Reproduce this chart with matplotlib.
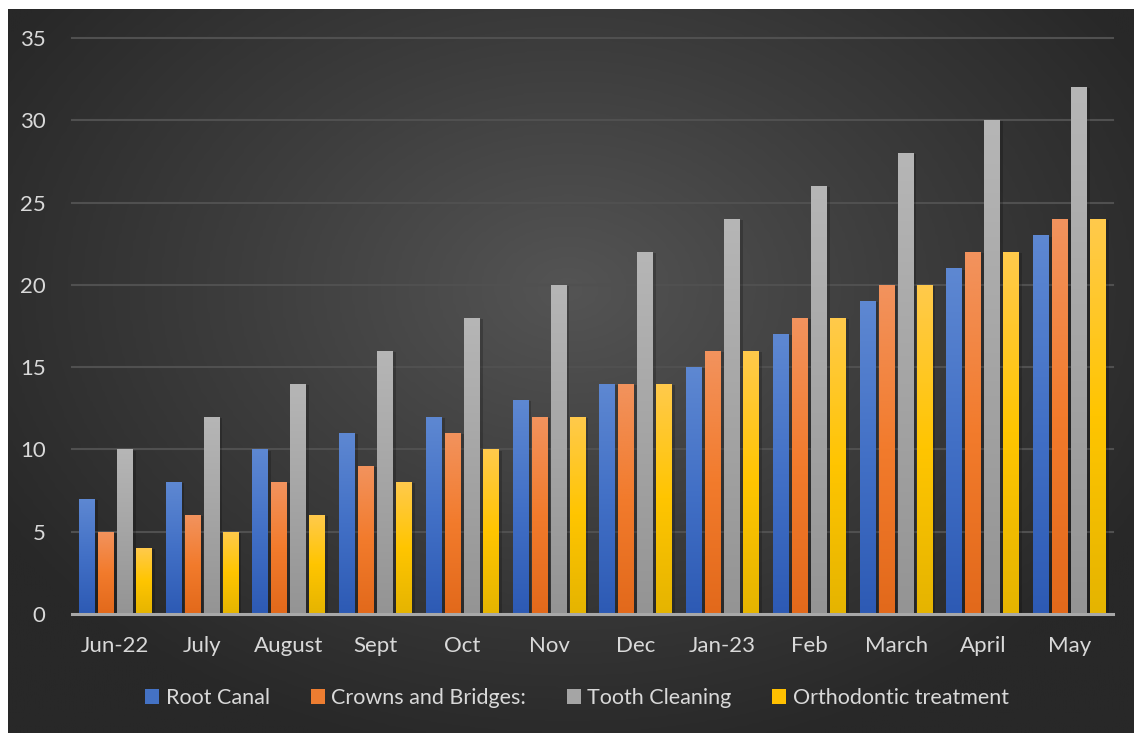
import numpy as np
import matplotlib
matplotlib.use('Agg')
import matplotlib.pyplot as plt
import matplotlib.patheffects as pe
from matplotlib.colors import LinearSegmentedColormap
from matplotlib.patches import Patch

# ── DATA ─────────────────────────────────────────────────────────────────────
months = ["Jun-22", "July", "August", "Sept", "Oct", "Nov", "Dec",
          "Jan-23", "Feb", "March", "April", "May"]
series_names = ["Root Canal", "Crowns and Bridges:", "Tooth Cleaning",
                "Orthodontic treatment"]
root_canal = [7, 8, 10, 11, 12, 13, 14, 15, 17, 19, 21, 23]
crowns_bridges = [5, 6, 8, 9, 11, 12, 14, 16, 18, 20, 22, 24]
tooth_cleaning = [10, 12, 14, 16, 18, 20, 22, 24, 26, 28, 30, 32]
orthodontic = [4, 5, 6, 8, 10, 12, 14, 16, 18, 20, 22, 24]
y_ticks = [0, 5, 10, 15, 20, 25, 30, 35]

# gradient stops per series: bottom, middle, top
gradients = [
    ["#2d5ab4", "#4270c6", "#5e88d2"],
    ["#e2691b", "#f27b2c", "#f2935e"],
    ["#949494", "#a5a5a5", "#b6b6b6"],
    ["#e5b400", "#ffc500", "#ffca4c"],
]
base_colors = ["#4472c4", "#ed7d31", "#a5a5a5", "#ffc000"]

TEXT = "#d9d9d9"
plt.rcParams['font.family'] = ['Lato', 'DejaVu Sans']

W, H = 1134, 733
fig = plt.figure(figsize=(W / 100, H / 100), dpi=100, facecolor="white")

# ── BACKGROUND: dark radial gradient ─────────────────────────────────────────
bg = fig.add_axes([8 / W, 0, 1 - 8 / W, (H - 9) / H], zorder=-10)
gx, gy = np.meshgrid(np.linspace(0, 1126, 400), np.linspace(0, 724, 260))
r = np.sqrt(((gx - 560) / 660) ** 2 + ((gy - 280) / 480) ** 2)
r = np.clip(r, 0, 1)
bg_cmap = LinearSegmentedColormap.from_list("bg", ["#545454", "#3d3d3d", "#282828"])
bg.imshow(r, cmap=bg_cmap, extent=[0, 1, 0, 1], aspect="auto", origin="upper",
          vmin=0, vmax=1, interpolation="bilinear")
bg.set_axis_off()

# ── MAIN AXES ────────────────────────────────────────────────────────────────
ymax = 35.15
ax = fig.add_axes([72 / W, (H - 614) / H, 1041 / W, 576 * ymax / 35 / H])
ax.set_facecolor("none")

x = np.arange(len(months))
width = 16 / 86.75
step = 19 / 86.75
all_series = [root_canal, crowns_bridges, tooth_cleaning, orthodontic]

grad_img = np.linspace(0, 1, 256).reshape(-1, 1)
for i, values in enumerate(all_series):
    offs = (i - 1.5) * step
    bars = ax.bar(x + offs, values, width, color=base_colors[i], zorder=3,
                  path_effects=[pe.SimplePatchShadow(offset=(2.0, -0.8),
                                                     shadow_rgbFace="black",
                                                     alpha=0.2),
                                pe.Normal()])
    cmap = LinearSegmentedColormap.from_list(f"g{i}", gradients[i])
    for b in bars:
        x0, h = b.get_x(), b.get_height()
        im = ax.imshow(grad_img, cmap=cmap, origin="lower", aspect="auto",
                       extent=[x0, x0 + width, 0, h], zorder=4,
                       interpolation="bilinear")
        im.set_clip_path(b)

ax.set_xlim(-0.5, len(months) - 0.5)
ax.set_ylim(0, ymax)
ax.set_yticks(y_ticks)
ax.set_xticks(x)
ax.set_xticklabels(months)

for s in ax.spines.values():
    s.set_visible(False)
for yv in y_ticks[1:]:
    ax.axhline(yv, color="#505050", linewidth=1.5, zorder=1, clip_on=False)
ax.axhline(0, color="#a8a8a8", linewidth=2.2, zorder=5, clip_on=False)

ax.tick_params(axis="both", length=0, colors=TEXT, labelsize=16)
ax.tick_params(axis="y", pad=19)
ax.tick_params(axis="x", pad=16)

# ── LEGEND ───────────────────────────────────────────────────────────────────
handles = [Patch(facecolor=c, edgecolor="none") for c in base_colors]
leg = fig.legend(handles, series_names, loc="center", ncol=4,
                 bbox_to_anchor=(577 / W, (H - 698) / H), frameon=False,
                 fontsize=15.5, handlelength=0.65, handleheight=0.65,
                 handletextpad=0.3, columnspacing=1.9, labelcolor=TEXT)

fig.savefig("out.png", dpi=100, facecolor="white")
